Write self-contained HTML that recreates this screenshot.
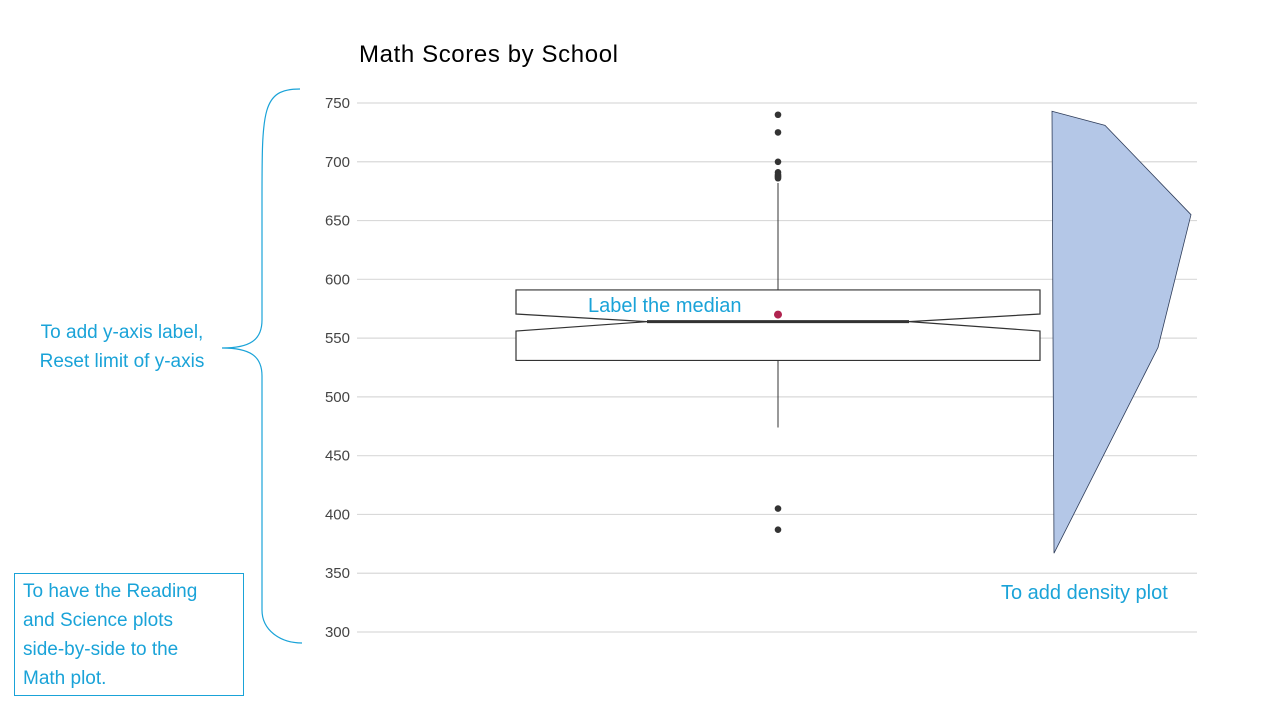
<!DOCTYPE html>
<html><head><meta charset="utf-8"><style>
body{margin:0;background:#fff;width:1280px;height:720px;overflow:hidden;font-family:"Liberation Sans",sans-serif}
.note{position:absolute;color:#1aa3d8;font-family:"Liberation Sans",sans-serif;font-size:20px;line-height:29px;white-space:nowrap}
</style></head><body>
<svg width="1280" height="720" style="position:absolute;left:0;top:0">
<text x="359" y="62" font-size="24" fill="#000" textLength="259">Math Scores by School</text>
<g id="grid"></g><g id="marks"></g>
<path d="M300 89 C262 89 262 110 262 200 L262 320 C262 340 250 348 222 348 C250 348 262 356 262 376 L262 610 C262 630 280 643 302 643" fill="none" stroke="#1aa3d8" stroke-width="1.2"/>
</svg>
<div class="note" style="top:318px;text-align:center;width:200px;left:22px;font-size:19px">To add y-axis label,<br>Reset limit of y-axis</div>
<div class="note" style="left:588px;top:292px;font-size:20px">Label the median</div>
<div class="note" style="left:1001px;top:579px;font-size:20px">To add density plot</div>
<div class="note" style="left:14px;top:573px;width:212px;height:118px;border:1px solid #1aa3d8;padding:3px 8px 0;font-size:19px">To have the Reading<br>and Science plots<br>side-by-side to the<br>Math plot.</div>
<script>
const ticks=[300,350,400,450,500,550,600,650,700,750];
const boxStats=[531,556,564,570.5,591]; // q1, notchLow, median, notchHigh, q3
const whiskers=[474,682];
const outliers=[740,725,700,691,689,688,687,686,405,387];
const meanVal=[570];
const densVals=[743,731,655,542,367];
const densWidth=[0,53,139,106,2];
const NS="http://www.w3.org/2000/svg";
const y=v=>103+(750-v)*529/450;
const cx=778,hw=262,dx=1052;
const g=document.getElementById('grid'),m=document.getElementById('marks');
function el(p,t,a){const e=document.createElementNS(NS,t);for(const k in a)e.setAttribute(k,a[k]);p.appendChild(e);return e;}
ticks.forEach(t=>{
 const l=el(g,'line',{x1:357,x2:1197,y1:y(t),y2:y(t),stroke:'#d9d9d9','stroke-width':1.2});
 
 
 const tx=el(g,'text',{x:350,y:y(t)+5,'text-anchor':'end','font-size':15,fill:'#444'});tx.textContent=t;
 
 
});
const [q1,nl,md,nh,q3]=boxStats;
const w1=el(m,'line',{x1:cx,x2:cx,y1:y(q3),y2:y(whiskers[1]),stroke:'#333'});


const w2=el(m,'line',{x1:cx,x2:cx,y1:y(q1),y2:y(whiskers[0]),stroke:'#333'});


const L=cx-hw,R=cx+hw,h2=hw/2;
const box=el(m,'polygon',{points:`${L},${y(q3)} ${R},${y(q3)} ${R},${y(nh)} ${cx+h2},${y(md)} ${R},${y(nl)} ${R},${y(q1)} ${L},${y(q1)} ${L},${y(nl)} ${cx-h2},${y(md)} ${L},${y(nh)}`,fill:'#fff',stroke:'#333','stroke-width':1.2});


const ml=el(m,'line',{x1:cx-h2,x2:cx+h2,y1:y(md),y2:y(md),stroke:'#333','stroke-width':3});


outliers.forEach(o=>{const c=el(m,'circle',{cx:cx,cy:y(o),r:3.3,fill:'#333'});
 
 });
const mc=el(m,'circle',{cx:cx,cy:y(meanVal[0]),r:4,fill:'#b0234f'});


const pts=densVals.map((v,i)=>`${dx+densWidth[i]},${y(v)}`).join(' ');
const d=el(m,'polygon',{points:pts,fill:'#b4c7e7',stroke:'#2f3d5a','stroke-width':0.8});


</script>
</body></html>
